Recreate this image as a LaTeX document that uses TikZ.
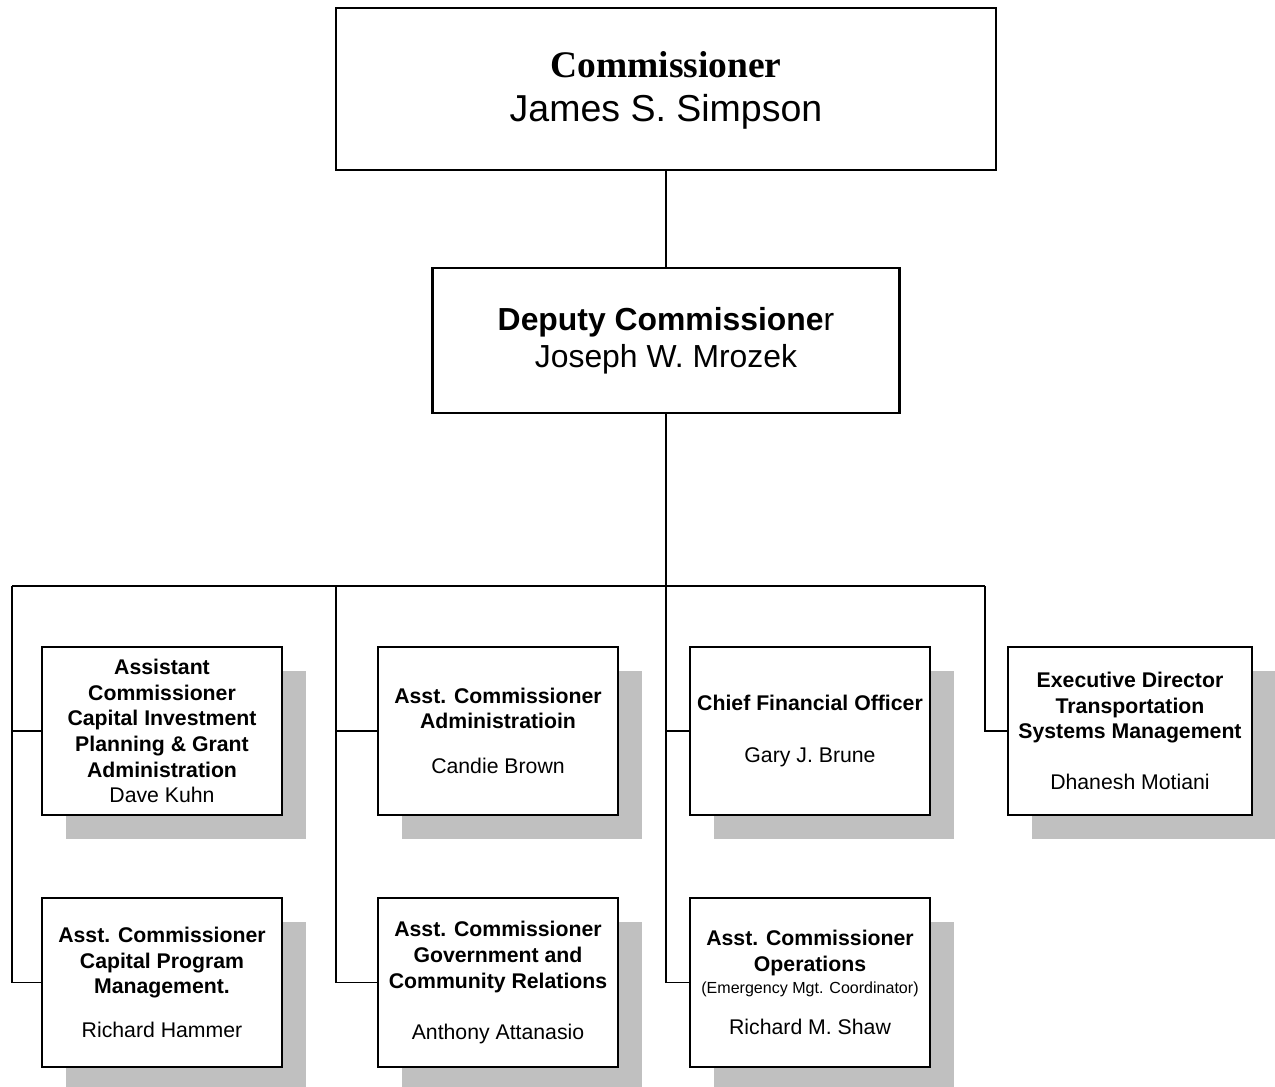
\documentclass[tikz,border=0pt]{standalone}
\usepackage{fontspec}
\setmainfont{Liberation Sans}
\newfontfamily\timesfont{Liberation Serif}
\usetikzlibrary{shadows}
\definecolor{shadowgray}{RGB}{192,192,192}
\begin{document}
\begin{tikzpicture}[x=0.48pt,y=-0.48pt,
  box/.style={draw, line width=1pt, fill=white, inner sep=0pt, align=center,
    minimum width=115.2pt, minimum height=80.64pt,
    drop shadow={shadow xshift=11.52pt, shadow yshift=-11.52pt, fill=shadowgray, opacity=1},
    font=\fontsize{10.2}{12.3}\selectfont},
  bigbox/.style={draw, line width=1pt, fill=white, inner sep=0pt, align=center},
  conn/.style={line width=0.5pt}]
\useasboundingbox (0,0) rectangle (1275,1086);

% top levels
\node[bigbox, minimum width=316.8pt, minimum height=77.76pt]
  (comm) at (666,89) {};
\node[align=center, inner sep=0pt, font=\fontsize{18}{20.8}\selectfont]
  (commtext) at (666,90.5) {{\timesfont\bfseries Commissioner}\\James S. Simpson};
\node[bigbox, minimum width=224.16pt, minimum height=69.6pt, font=\fontsize{15.3}{17.8}\selectfont]
  (dep) at (666,340.5) {\textbf{Deputy Commissione}r\\Joseph W. Mrozek};

% junctions
\coordinate (jc) at (666,586);
\coordinate (jl) at (12,586);
\coordinate (jm) at (336,586);
\coordinate (jr) at (985,586);

% row 1
\node[box] (b1) at (162,731) {\textbf{Assistant}\\\textbf{Commissioner}\\\textbf{Capital Investment}\\\textbf{Planning \& Grant}\\\textbf{Administration}\\Dave Kuhn};
\node[box] (b2) at (498,731) {\textbf{Asst. Commissioner}\\\textbf{Administratioin}\\[9.3pt]Candie Brown};
\node[box] (b3) at (810,731) {\textbf{Chief Financial Officer}\\[12.2pt]Gary J. Brune};
\node[box, minimum width=117.1pt] (b4) at (1130,731) {\textbf{Executive Director}\\\textbf{Transportation}\\\textbf{Systems Management}\\[12.2pt]Dhanesh Motiani};

% row 2
\node[box, minimum height=81.1pt] (b5) at (162,982.5) {\textbf{Asst. Commissioner}\\\textbf{Capital Program}\\\textbf{Management.}\\[8.8pt]Richard Hammer};
\node[box, minimum height=81.1pt] (b6) at (498,982.5) {\textbf{Asst. Commissioner}\\\textbf{Government and}\\\textbf{Community Relations}\\[12.2pt]Anthony Attanasio};
\node[box, minimum height=81.1pt] (b7) at (810,982.5) {\textbf{Asst. Commissioner}\\\textbf{Operations}\\[-1.74pt]{\fontsize{7.7}{9}\selectfont (Emergency Mgt. Coordinator)}\\[7.4pt]Richard M. Shaw};

% connectors
\draw[conn] (comm.south) -- (dep.north);
\draw[conn] (dep.south) -- (jc);
\draw[conn] (jl) -- (jr);
\draw[conn] (jl) |- (b5.west);
\draw[conn] (b1.west) -- (b1.west -| jl);
\draw[conn] (jm) |- (b6.west);
\draw[conn] (b2.west) -- (b2.west -| jm);
\draw[conn] (jc) |- (b7.west);
\draw[conn] (b3.west) -- (b3.west -| jc);
\draw[conn] (jr) |- (b4.west);
\end{tikzpicture}
\end{document}
